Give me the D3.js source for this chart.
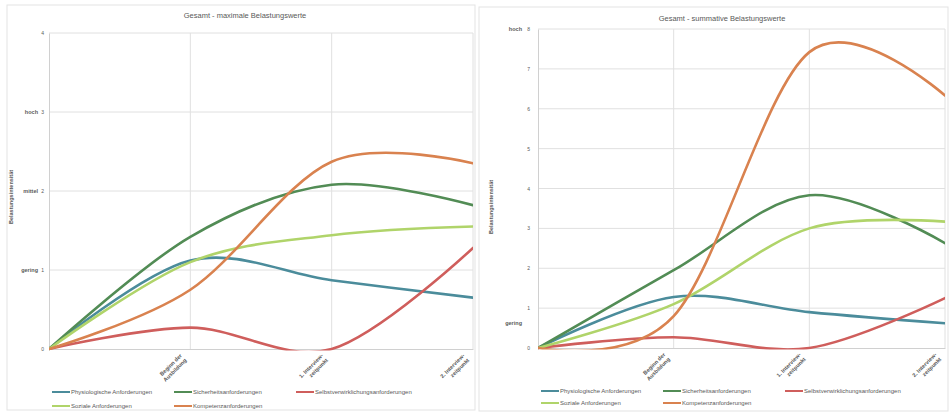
<!DOCTYPE html>
<html>
<head>
<meta charset="utf-8">
<script src="https://cdn.jsdelivr.net/npm/d3@7"></script>
<style>
  body { margin: 0; background: #fff; }
  svg { display: block; }
  text { font-family: "Liberation Sans", Arial, sans-serif; fill: #595959; }
</style>
</head>
<body>
<div id="chart"></div>
<script>
// x categories (first one is the empty starting point)
var categories = ["start", "Beginn der Ausbildung", "1. Interviewzeitpunkt", "2. Interviewzeitpunkt"];
var categoryLabels = [[], ["Beginn der", "Ausbildung"], ["1. Interview-", "zeitpunkt"], ["2. Interview-", "zeitpunkt"]];

var seriesNames = ["Physiologische Anforderungen", "Sicherheitsanforderungen", "Selbstverwirklichungsanforderungen",
  "Soziale Anforderungen", "Kompetenzanforderungen"];
var seriesColors = ["#4b8c9b", "#528c55", "#cf5e5c", "#b0d46a", "#d9824f"];

// Gesamt - maximale Belastungswerte
var maxPhysio = [0, 1.12, 0.87, 0.65];
var maxSicherheit = [0, 1.42, 2.08, 1.82];
var maxSelbst = [0, 0.27, 0, 1.28];
var maxSozial = [0, 1.1, 1.44, 1.55];
var maxKompetenz = [0, 0.75, 2.37, 2.35];
var maxTicks = [0, 1, 2, 3, 4];
var maxLevelWords = ["gering", "mittel", "hoch"];
var maxLevelAt = [1, 2, 3];

// Gesamt - summative Belastungswerte
var sumPhysio = [0, 1.28, 0.9, 0.62];
var sumSicherheit = [0, 1.95, 3.83, 2.63];
var sumSelbst = [0, 0.27, 0, 1.25];
var sumSozial = [0, 1.1, 3.0, 3.17];
var sumKompetenz = [0, 0.8, 7.42, 6.33];
var sumTicks = [0, 1, 2, 3, 4, 5, 6, 7, 8];
var sumLevelWords = ["gering", "hoch"];
var sumLevelAt = [0.62, 8];

var svg = d3.select("#chart").append("svg")
  .attr("width", 949)
  .attr("height", 413);

function drawChart(o){
  var g = svg.append("g");

  // outer chart box
  g.append("rect")
    .attr("x", o.box[0]).attr("y", o.box[1])
    .attr("width", o.box[2]).attr("height", o.box[3])
    .attr("fill", "#fff")
    .attr("stroke", "#e3e3e3");

  var x = d3.scalePoint().domain(categories).range([o.left, o.right]);
  var y = d3.scaleLinear().domain([0, o.ticks[o.ticks.length - 1]]).range([o.bottom, o.top]);

  // gridlines
  g.selectAll(".hgrid")
    .data(o.ticks.filter(function(t){ return t > 0; }))
    .enter().append("line")
      .attr("x1", o.left).attr("x2", o.right)
      .attr("y1", function(d){ return y(d); })
      .attr("y2", function(d){ return y(d); })
      .attr("stroke", "#e0e0e0");

  g.selectAll(".vgrid")
    .data(categories.slice(1))
    .enter().append("line")
      .attr("x1", function(d){ return x(d); })
      .attr("x2", function(d){ return x(d); })
      .attr("y1", o.top).attr("y2", o.bottom)
      .attr("stroke", "#e0e0e0");

  // y axis
  var yAxis = g.append("g")
    .attr("transform", "translate(" + o.left + ",0)")
    .call(d3.axisLeft(y).tickValues(o.ticks).tickSize(0).tickPadding(o.tickPad).tickFormat(d3.format("d")));
  yAxis.select(".domain").attr("stroke", "#d0d0d0");
  yAxis.selectAll("text").style("font-size", "5px").attr("fill", "#595959");

  // level words next to the numbers
  g.selectAll(".word")
    .data(o.words)
    .enter().append("text")
      .attr("x", o.wordX)
      .attr("y", function(d, i){ return y(o.wordAt[i]); })
      .attr("dy", "0.35em")
      .attr("text-anchor", "end")
      .style("font-size", "5.5px")
      .style("font-weight", "bold")
      .text(function(d){ return d; });

  // x axis
  var xAxis = g.append("g")
    .attr("transform", "translate(0," + o.bottom + ")")
    .call(d3.axisBottom(x).tickSize(0).tickFormat(""));
  xAxis.select(".domain").attr("stroke", "#d0d0d0");

  g.selectAll(".xlab")
    .data(categories)
    .enter().append("text")
      .attr("transform", function(d){ return "translate(" + (x(d) - 8) + "," + (o.bottom + 7) + ") rotate(-45)"; })
      .attr("text-anchor", "end")
      .style("font-size", "5.5px")
      .style("font-weight", "bold")
      .selectAll("tspan")
      .data(function(d, i){ return categoryLabels[i]; })
      .enter().append("tspan")
        .attr("x", 0)
        .attr("dy", function(d, i){ return i === 0 ? 0 : "1.2em"; })
        .text(function(d){ return d; });

  // axis title
  g.append("text")
    .attr("transform", "translate(" + o.yTitle[0] + "," + o.yTitle[1] + ") rotate(-90)")
    .attr("text-anchor", "middle")
    .style("font-size", "5.5px")
    .style("font-weight", "bold")
    .text("Belastungsintensität");

  // chart title
  g.append("text")
    .attr("x", o.title[0]).attr("y", o.title[1])
    .attr("text-anchor", "middle")
    .style("font-size", "7.5px")
    .text(o.titleText);

  // clip the smoothed lines to the plot area
  g.append("clipPath").attr("id", o.id + "clip")
    .append("rect")
      .attr("x", o.left).attr("y", o.top)
      .attr("width", o.right - o.left).attr("height", o.bottom - o.top + 1.5);

  var line = d3.line()
    .x(function(d, i){ return x(categories[i]); })
    .y(function(d){ return y(d); })
    .curve(d3.curveCardinal.tension(0));

  g.append("g").attr("clip-path", "url(#" + o.id + "clip)")
    .selectAll("path")
    .data(o.series)
    .enter().append("path")
      .attr("d", line)
      .attr("fill", "none")
      .attr("stroke", function(d, i){ return seriesColors[i]; })
      .attr("stroke-width", 2.6)
      .attr("stroke-linecap", "round");

  // legend
  var leg = g.selectAll(".leg")
    .data(seriesNames)
    .enter().append("g")
      .attr("transform", function(d, i){
        return "translate(" + (o.legX + (i % 3) * 122) + "," + (i < 3 ? o.legY[0] : o.legY[1]) + ")";
      });
  leg.append("line")
    .attr("x1", 0).attr("x2", 18)
    .attr("stroke", function(d, i){ return seriesColors[i]; })
    .attr("stroke-width", 2);
  leg.append("text")
    .attr("x", 19).attr("dy", "0.35em")
    .style("font-size", "6px")
    .text(function(d){ return d; });
}

drawChart({
  id: "max",
  box: [7, 5, 468, 405],
  left: 49, right: 473, top: 33, bottom: 349,
  ticks: maxTicks, tickPad: 5,
  words: maxLevelWords, wordAt: maxLevelAt, wordX: 38,
  yTitle: [13, 197],
  title: [245, 18], titleText: "Gesamt - maximale Belastungswerte",
  series: [maxPhysio, maxSicherheit, maxSelbst, maxSozial, maxKompetenz],
  legX: 52, legY: [392, 406]
});

drawChart({
  id: "sum",
  box: [479, 7, 469, 404],
  left: 538, right: 945, top: 29, bottom: 348,
  ticks: sumTicks, tickPad: 8,
  words: sumLevelWords, wordAt: sumLevelAt, wordX: 522,
  yTitle: [493, 207],
  title: [722, 21], titleText: "Gesamt - summative Belastungswerte",
  series: [sumPhysio, sumSicherheit, sumSelbst, sumSozial, sumKompetenz],
  legX: 541, legY: [391, 403]
});
</script>
</body>
</html>
